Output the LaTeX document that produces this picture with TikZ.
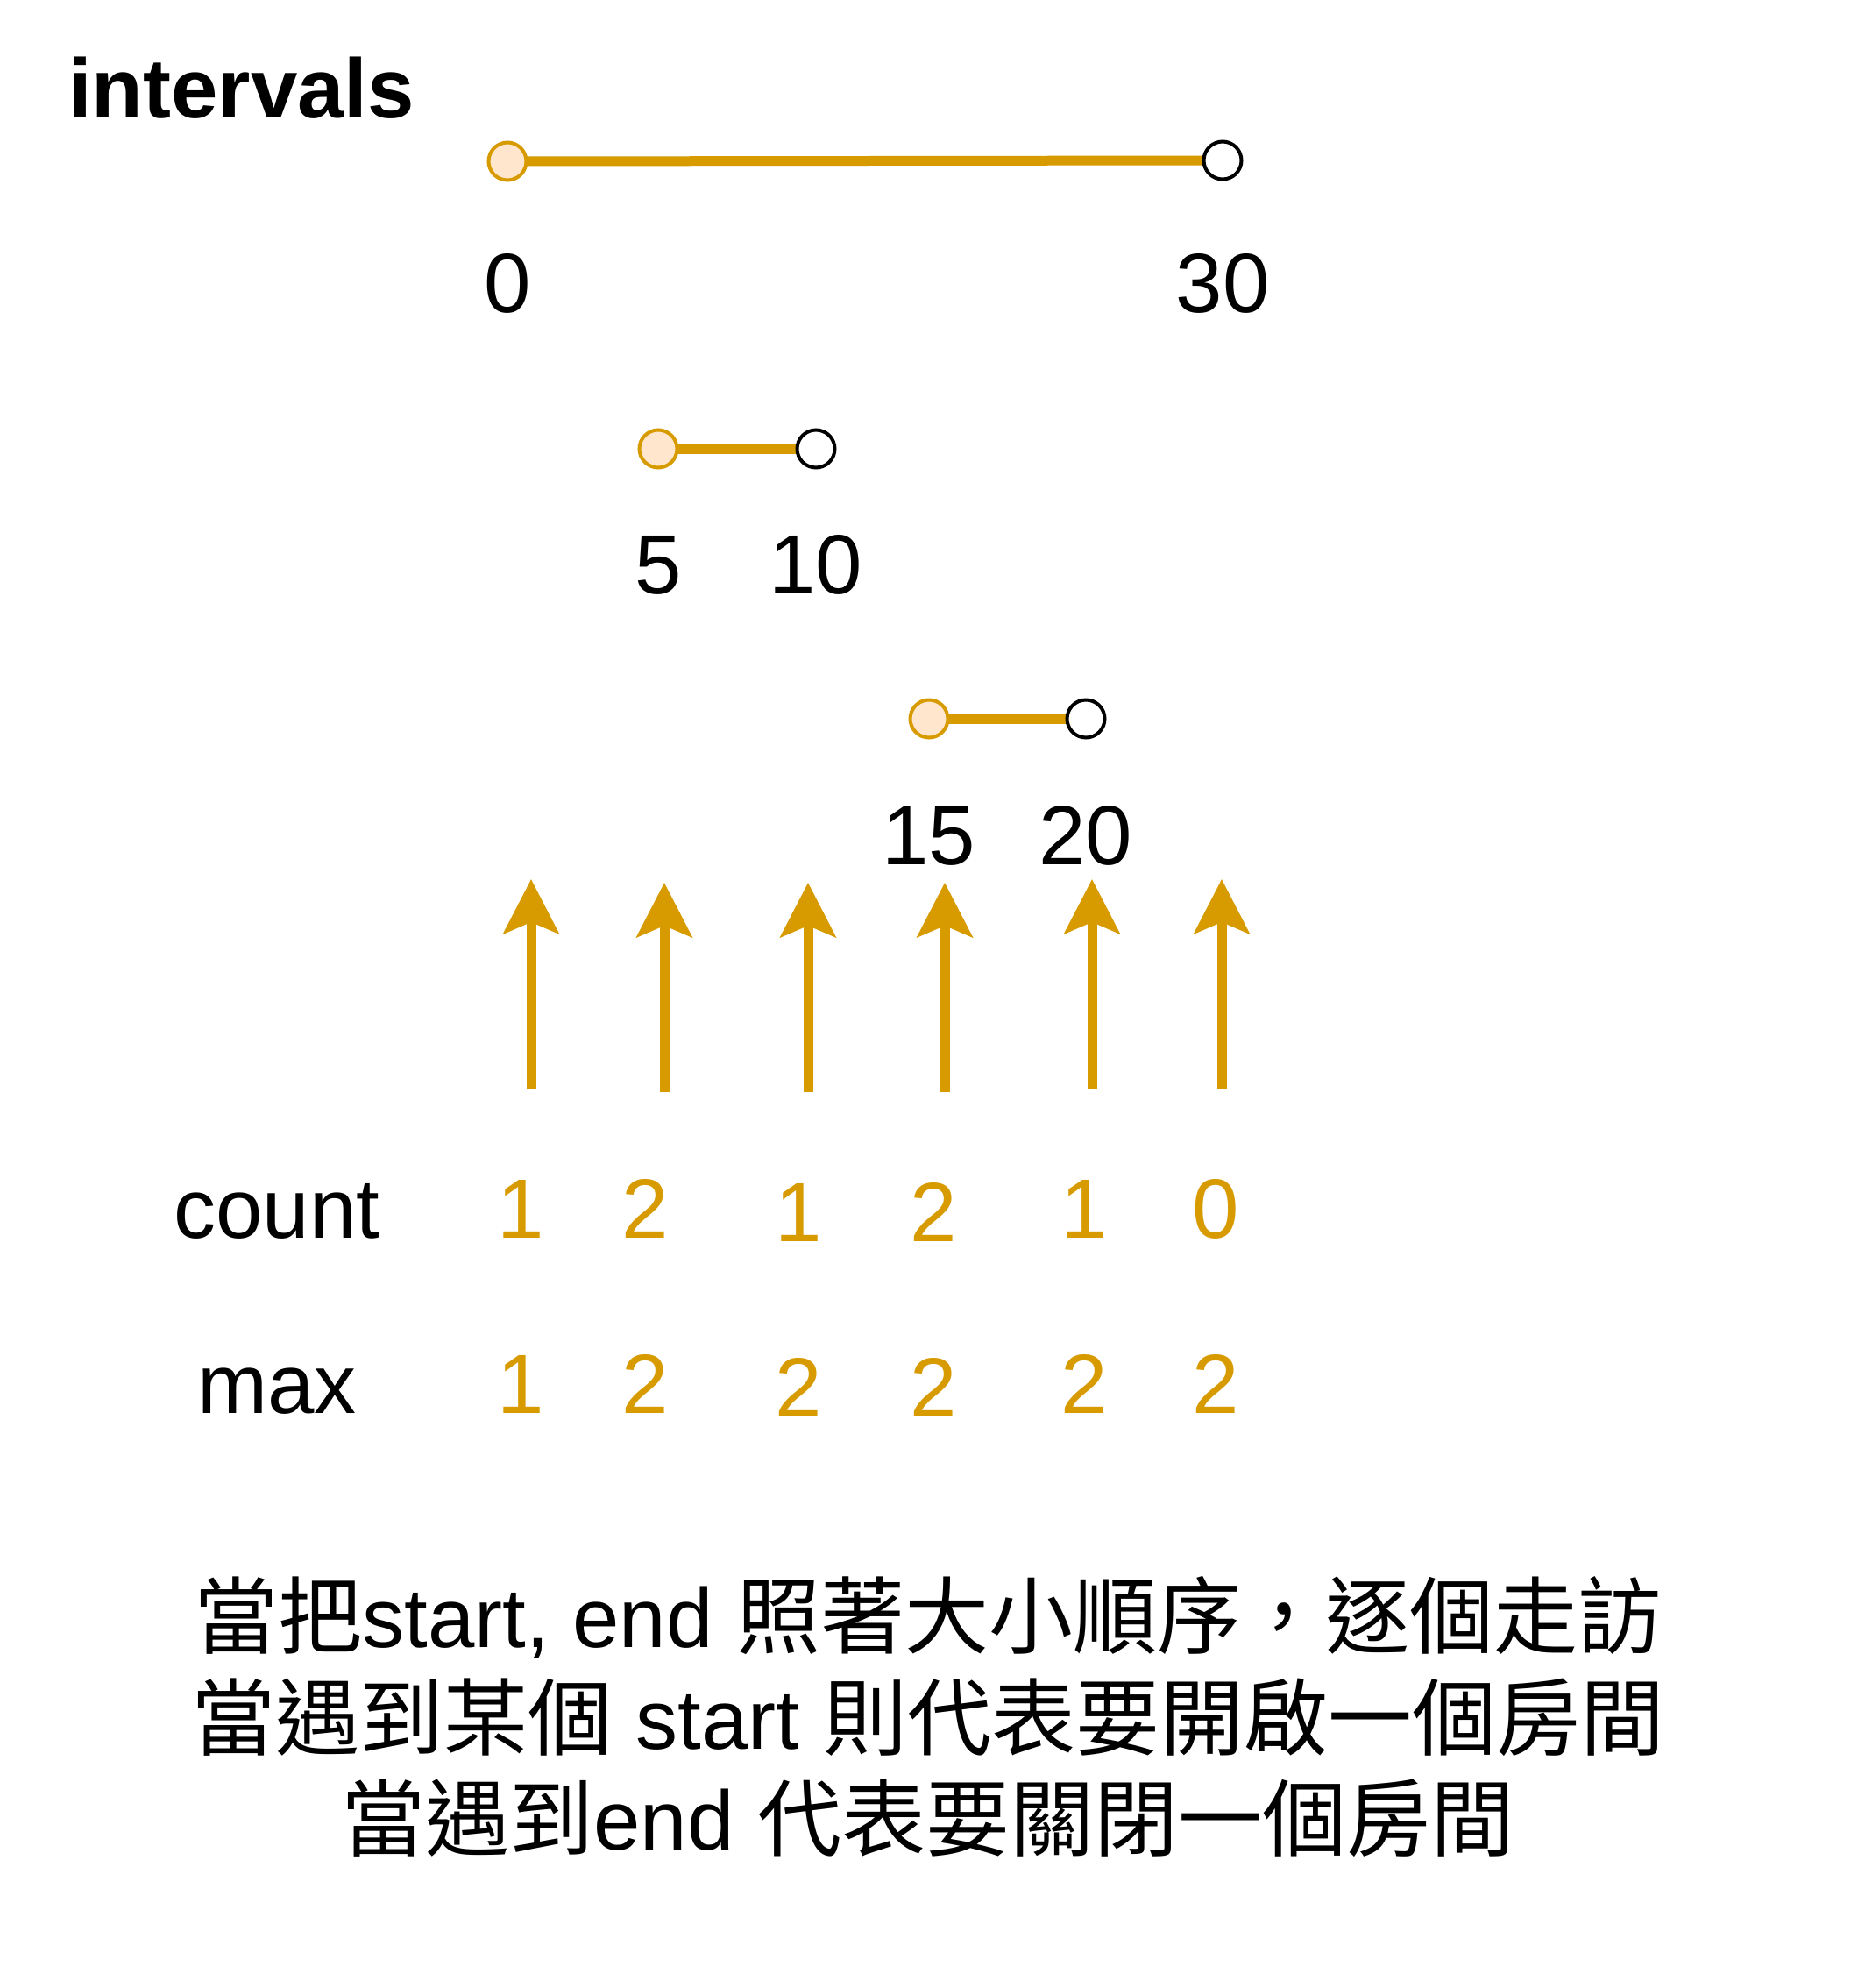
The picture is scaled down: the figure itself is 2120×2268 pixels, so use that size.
\documentclass[tikz,border=0pt]{standalone}
\usepackage{fontspec}
\setmainfont{Liberation Sans}
\newfontfamily\cjk{Noto Sans CJK TC}
\usetikzlibrary{arrows.meta,backgrounds}
\definecolor{org}{HTML}{D79B00}
\definecolor{orgfill}{HTML}{FFE6CC}
\begin{document}
\begin{tikzpicture}[x=1pt,y=-1pt,
  startpt/.style={circle,draw=org,fill=orgfill,line width=4pt,minimum size=43pt,inner sep=0pt},
  endpt/.style={circle,draw=black,fill=white,line width=4pt,minimum size=43pt,inner sep=0pt},
  span/.style={draw=org,line width=11pt},
  lbl/.style={inner sep=0pt,anchor=base,font=\fontsize{96}{115}\selectfont},
  num/.style={lbl,text=org},
  up/.style={draw=org,line width=11pt,-{Stealth[length=62pt,width=63pt,inset=13pt]}}]
\useasboundingbox (0,0) rectangle (2120,2268);

% title
\node[lbl,anchor=base west,font=\bfseries\fontsize{96}{115}\selectfont] (title) at (78,134) {intervals};

% interval [0,30]
\node[startpt] (s1) at (579,184) {};
\node[endpt] (e1) at (1395,183) {};
\node[lbl] (l0) at (579,356) {0};
\node[lbl] (l30) at (1395,356) {30};

% interval [5,10]
\node[startpt] (s2) at (751,512) {};
\node[endpt] (e2) at (931,512) {};
\node[lbl] (l5) at (751,677) {5};
\node[lbl] (l10) at (931,677) {10};

% interval [15,20]
\node[startpt] (s3) at (1060,820) {};
\node[endpt] (e3) at (1239,820) {};
\node[lbl] (l15) at (1060,986) {15};
\node[lbl] (l20) at (1239,986) {20};

\begin{scope}[on background layer]
  \fill[white] (0,0) rectangle (2120,2268);
  \draw[span] (s1.center) -- (e1.center);
  \draw[span] (s2.center) -- (e2.center);
  \draw[span] (s3.center) -- (e3.center);
\end{scope}

% arrows
\coordinate (a1b) at (606,1242); \coordinate (a1t) at (606,1003);
\coordinate (a2b) at (758,1246); \coordinate (a2t) at (758,1007);
\coordinate (a3b) at (922,1246); \coordinate (a3t) at (922,1007);
\coordinate (a4b) at (1078,1246); \coordinate (a4t) at (1078,1007);
\coordinate (a5b) at (1246,1242); \coordinate (a5t) at (1246,1003);
\coordinate (a6b) at (1394,1242); \coordinate (a6t) at (1394,1003);
\draw[up] (a1b) -- (a1t);
\draw[up] (a2b) -- (a2t);
\draw[up] (a3b) -- (a3t);
\draw[up] (a4b) -- (a4t);
\draw[up] (a5b) -- (a5t);
\draw[up] (a6b) -- (a6t);

% count row
\node[lbl] (count) at (316,1412) {count};
\node[num] (c1) at (594,1412) {1};
\node[num] (c2) at (736,1412) {2};
\node[num] (c3) at (911,1416) {1};
\node[num] (c4) at (1065,1416) {2};
\node[num] (c5) at (1237,1412) {1};
\node[num] (c6) at (1387,1412) {0};

% max row
\node[lbl] (max) at (316,1612) {max};
\node[num] (m1) at (594,1612) {1};
\node[num] (m2) at (736,1612) {2};
\node[num] (m3) at (911,1616) {2};
\node[num] (m4) at (1065,1616) {2};
\node[num] (m5) at (1237,1612) {2};
\node[num] (m6) at (1387,1612) {2};

% explanation
\node[lbl] (t1) at (1059,1879) {{\cjk 當把}start, end {\cjk 照著大小順序，逐個走訪}};
\node[lbl] (t2) at (1059,1995) {{\cjk 當遇到某個} start {\cjk 則代表要開啟一個房間}};
\node[lbl] (t3) at (1059,2110) {{\cjk 當遇到}end {\cjk 代表要關閉一個房間}};
\end{tikzpicture}
\end{document}
